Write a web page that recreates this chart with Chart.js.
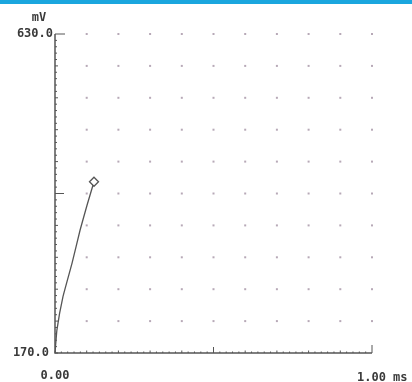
<!DOCTYPE html>
<html lang="en">
<head>
    <meta charset="UTF-8">
    <title>Trace</title>
    <script src="https://cdn.jsdelivr.net/npm/chart.js"></script>
    <style>
        body {
            margin: 0;
            padding: 0;
            background: #fff;
            overflow: hidden;
        }
        #topBar {
            position: absolute;
            left: 0;
            top: 0;
            width: 412px;
            height: 4px;
            background-color: #1aa6de;
        }
        #wrap {
            position: relative;
            width: 412px;
            height: 382px;
        }
        #trace {
            display: block;
        }
    </style>
</head>
<body>
    <div id="wrap">
        <canvas id="trace" width="412" height="382"></canvas>
        <div id="topBar"></div>
    </div>

    <script>
        // trace (ms, mV)
        const timeMs = [0, 0.006, 0.025, 0.054, 0.079, 0.101, 0.123];
        const voltage = [170, 203, 251, 300, 347, 383, 417];

        const xRange = [0, 1];
        const yRange = [170, 630];
        const xTickLabels = ['0.00', '1.00 ms'];
        const yTickLabels = ['170.0', '630.0'];
        const yUnit = 'mV';
        const divisions = 10;

        const ink = '#3a3a3a';
        const labelFont = 'bold 12px "DejaVu Sans Mono", monospace';

        // dots at grid crossings, axis lines with inward ticks, end labels
        const scopePlugin = {
            id: 'scope',
            beforeDatasetsDraw(chart) {
                const ctx = chart.ctx;
                const xs = chart.scales.x;
                const ys = chart.scales.y;
                const x0 = xs.getPixelForValue(xRange[0]);
                const x1 = xs.getPixelForValue(xRange[1]);
                const y0 = ys.getPixelForValue(yRange[0]);
                const y1 = ys.getPixelForValue(yRange[1]);
                const dx = (xRange[1] - xRange[0]) / divisions;
                const dy = (yRange[1] - yRange[0]) / divisions;

                ctx.save();
                // grid dots
                ctx.fillStyle = '#b7a9b7';
                for (let i = 1; i <= divisions; i++) {
                    for (let j = 1; j <= divisions; j++) {
                        const px = xs.getPixelForValue(xRange[0] + i * dx);
                        const py = ys.getPixelForValue(yRange[0] + j * dy);
                        ctx.fillRect(px - 1, py - 1, 2, 2);
                    }
                }

                // axes
                ctx.strokeStyle = '#555';
                ctx.lineWidth = 1.5;
                ctx.beginPath();
                ctx.moveTo(x0, y1);
                ctx.lineTo(x0, y0);
                ctx.lineTo(x1, y0);
                ctx.stroke();

                // y ticks (inward)
                ctx.lineWidth = 1;
                ctx.beginPath();
                for (let k = 0; k <= divisions * 5; k++) {
                    const py = ys.getPixelForValue(yRange[0] + k * dy / 5);
                    let len = 2;
                    if (k % 5 === 0) len = 3;
                    if (k === divisions * 5 / 2) len = 9;
                    if (k === divisions * 5) len = 10;
                    ctx.moveTo(x0, py);
                    ctx.lineTo(x0 + len, py);
                }
                // x ticks (inward)
                for (let k = 0; k <= divisions * 5; k++) {
                    const px = xs.getPixelForValue(xRange[0] + k * dx / 5);
                    let len = 1.5;
                    if (k % 5 === 0) len = 2.5;
                    if (k === divisions * 5 / 2) len = 6;
                    if (k === divisions * 5) len = 8;
                    ctx.moveTo(px, y0);
                    ctx.lineTo(px, y0 - len);
                }
                ctx.stroke();

                // labels
                ctx.fillStyle = ink;
                ctx.font = labelFont;
                ctx.textBaseline = 'middle';
                ctx.textAlign = 'right';
                ctx.fillText(yTickLabels[1], x0 - 2, y1);
                ctx.fillText(yTickLabels[0], x0 - 6, y0);
                ctx.textAlign = 'center';
                ctx.fillText(yUnit, x0 - 16, y1 - 16);
                ctx.fillText(xTickLabels[0], x0, y0 + 23);
                ctx.textAlign = 'left';
                ctx.fillText(xTickLabels[1], x1 - 15, y0 + 25);
                ctx.restore();
            }
        };

        const lastIdx = timeMs.length - 1;

        new Chart(document.getElementById('trace').getContext('2d'), {
            type: 'line',
            data: {
                datasets: [{
                    data: timeMs.map((t, i) => ({ x: t, y: voltage[i] })),
                    borderColor: '#555',
                    borderWidth: 1.3,
                    tension: 0.1,
                    pointStyle: 'rectRot',
                    pointRadius: timeMs.map((t, i) => i === lastIdx ? 4.5 : 0),
                    pointBackgroundColor: '#fff',
                    pointBorderColor: '#555',
                    pointBorderWidth: 1.3
                }]
            },
            options: {
                responsive: false,
                animation: false,
                devicePixelRatio: 1,
                layout: {
                    padding: { left: 55, right: 40, top: 34, bottom: 29 }
                },
                plugins: {
                    legend: { display: false },
                    tooltip: { enabled: false }
                },
                scales: {
                    x: { type: 'linear', display: false, min: xRange[0], max: xRange[1] },
                    y: { type: 'linear', display: false, min: yRange[0], max: yRange[1] }
                }
            },
            plugins: [scopePlugin]
        });
    </script>
</body>
</html>
